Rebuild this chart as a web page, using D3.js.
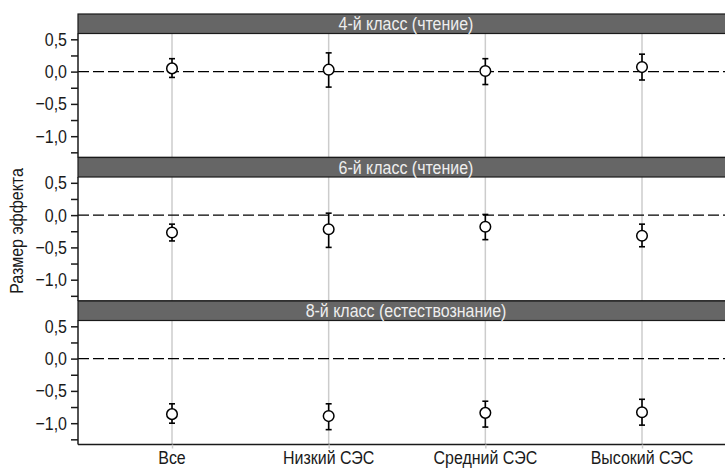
<!DOCTYPE html>
<html><head><meta charset="utf-8">
<script src="https://cdn.jsdelivr.net/npm/d3@7"></script>
<style>
body{margin:0;background:#fff;}
svg text{font-family:"Liberation Sans",Arial,sans-serif;}
</style></head>
<body><svg id="c" width="725" height="468"></svg>
<script>
const categories = ["Все","Низкий СЭС","Средний СЭС","Высокий СЭС"];
const panels = ["4-й класс (чтение)","6-й класс (чтение)","8-й класс (естествознание)"];
// estimate, lower, upper per panel
const est4 = [0.05, 0.03, 0.01, 0.07];
const lo4  = [-0.09, -0.24, -0.20, -0.13];
const hi4  = [0.20, 0.29, 0.20, 0.27];
const est6 = [-0.27, -0.22, -0.18, -0.32];
const lo6  = [-0.40, -0.50, -0.38, -0.49];
const hi6  = [-0.14, 0.03, 0.01, -0.14];
const est8 = [-0.86, -0.89, -0.84, -0.83];
const lo8  = [-1.00, -1.10, -1.06, -1.03];
const hi8  = [-0.70, -0.70, -0.66, -0.63];
const majorTicks = [0.5, 0, -0.5, -1.0];
const tickLabels = ["0,5","0,0","\u22120,5","\u22121,0"];
const minorTicks = [0.5,0.25,0,-0.25,-0.5,-0.75,-1.0,-1.25];
const yTitle = "Размер эффекта";

const data = [
  {title: panels[0], est: est4, lo: lo4, hi: hi4},
  {title: panels[1], est: est6, lo: lo6, hi: hi6},
  {title: panels[2], est: est8, lo: lo8, hi: hi8}
];

const svg = d3.select("#c");
const left = 78, right = 736, top0 = 14, panelH = 143.5, stripH = 19.5;
const x = d3.scalePoint().domain(categories).range([left, right]).padding(0.6);
const fontSz = 18.5;
const txtCol = "#1a1a1a";

// measure natural width to derive a horizontal condensing factor
const probe = svg.append("text").attr("font-size", fontSz).text(panels[0]);
const natW = probe.node().getComputedTextLength();
probe.remove();
const sx = natW > 0 ? 135 / natW : 0.87;

function label(parent, tx, ty, str, anchor, fill, rot) {
  return parent.append("text")
    .attr("transform", `translate(${tx},${ty})` + (rot ? ` rotate(${rot})` : "") + ` scale(${sx},1)`)
    .attr("text-anchor", anchor).attr("font-size", fontSz).attr("fill", fill).text(str);
}

data.forEach((p, i) => {
  const pt = top0 + i*panelH;
  const y0 = pt + stripH, y1 = pt + panelH;
  const y = d3.scaleLinear().domain([-1.33, 0.59]).range([y1, y0]);
  const g = svg.append("g");
  g.selectAll(".grid").data(categories).enter().append("line")
    .attr("x1", d=>x(d)).attr("x2", d=>x(d)).attr("y1", y0).attr("y2", y1)
    .attr("stroke", "#cccccc").attr("stroke-width", 1.5);
  g.append("line").attr("x1", left).attr("x2", 725).attr("y1", y(0)).attr("y2", y(0))
    .attr("stroke", "#000").attr("stroke-width", 1.4).attr("stroke-dasharray", "11,4");
  g.append("rect").attr("x", left).attr("y", pt).attr("width", right-left).attr("height", stripH)
    .attr("fill", "#666666").attr("stroke", "#1a1a1a").attr("stroke-width", 1.2);
  label(g, 406, pt + stripH/2 + 6.5, p.title, "middle", "#eeeeee");
  g.append("line").attr("x1", left).attr("x2", 725).attr("y1", y1).attr("y2", y1)
    .attr("stroke", "#1a1a1a").attr("stroke-width", 1.5);
  const ax = d3.axisLeft(y).tickValues(minorTicks).tickSize(7).tickFormat("");
  const ag = svg.append("g").attr("transform", `translate(${left},0)`).call(ax);
  ag.select(".domain").attr("d", `M0,${y0}V${y1}`).attr("stroke","#1a1a1a").attr("stroke-width",1.5);
  ag.selectAll(".tick line").attr("stroke","#1a1a1a").attr("stroke-width",1.5);
  majorTicks.forEach((v, k) => label(svg, left - 11, y(v) + 6.5, tickLabels[k], "end", txtCol));
  const cap = 3;
  const eg = svg.append("g");
  categories.forEach((c, j) => {
    const cx = x(c);
    eg.append("line").attr("x1", cx).attr("x2", cx).attr("y1", y(p.lo[j])).attr("y2", y(p.hi[j]))
      .attr("stroke","#000").attr("stroke-width",1.6);
    [p.lo[j], p.hi[j]].forEach(v => eg.append("line").attr("x1", cx-cap).attr("x2", cx+cap)
      .attr("y1", y(v)).attr("y2", y(v)).attr("stroke","#000").attr("stroke-width",1.6));
    eg.append("circle").attr("cx", cx).attr("cy", y(p.est[j])).attr("r", 5.3)
      .attr("fill","#fff").attr("stroke","#000").attr("stroke-width",1.5);
  });
  if (i === data.length - 1) {
    const xa = d3.axisBottom(x).tickSize(4).tickFormat("");
    const xg = svg.append("g").attr("transform", `translate(0,${y1})`).call(xa);
    xg.select(".domain").remove();
    xg.selectAll(".tick line").attr("stroke","#cccccc").attr("stroke-width",1.5);
    categories.forEach(c => label(svg, x(c), 463.5, c, "middle", txtCol));
  }
});

label(svg, 23, 231, yTitle, "middle", txtCol, -90);
</script></body></html>
